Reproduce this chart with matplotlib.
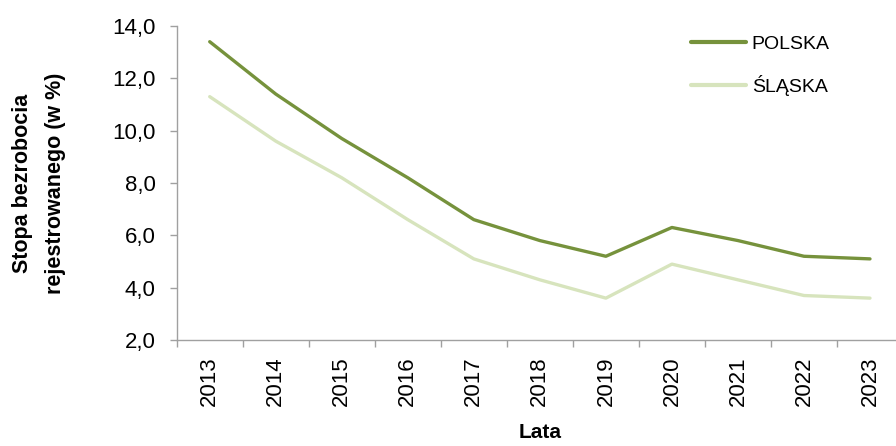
import matplotlib
matplotlib.use("Agg")
import matplotlib.pyplot as plt

years = ["2013", "2014", "2015", "2016", "2017", "2018", "2019", "2020", "2021", "2022", "2023"]
polska = [13.4, 11.4, 9.7, 8.2, 6.6, 5.8, 5.2, 6.3, 5.8, 5.2, 5.1]
slaska = [11.3, 9.6, 8.2, 6.6, 5.1, 4.3, 3.6, 4.9, 4.3, 3.7, 3.6]
yticks = [2.0, 4.0, 6.0, 8.0, 10.0, 12.0, 14.0]

plt.rcParams['font.family'] = ['Liberation Sans', 'DejaVu Sans']

W, H = 896, 446
fig = plt.figure(figsize=(W / 100, H / 100), dpi=100)
left, right, bottom, top = 176.7, 903, 340, 26
ax = fig.add_axes([left / W, 1 - bottom / H, (right - left) / W, (bottom - top) / H])

x = list(range(len(years)))
ax.plot(x, polska, color='#76923C', lw=2.4, label='POLSKA', solid_capstyle='round', solid_joinstyle='round')
ax.plot(x, slaska, color='#D7E4BD', lw=2.4, label='ŚLĄSKA', solid_capstyle='round', solid_joinstyle='round')

FS = 16
ax.set_xlim(-0.5, len(years) - 0.5)
ax.set_ylim(2, 14)
ax.set_yticks(yticks)
ax.set_yticklabels([f"{v:.1f}".replace('.', ',') for v in yticks], fontsize=FS)
ax.set_xticks([i - 0.5 for i in range(len(years) + 1)])
ax.set_xticklabels([])
ax.set_xticks(x, minor=True)
ax.set_xticklabels(years, minor=True, rotation=90, fontsize=FS)
ax.tick_params(axis='x', which='minor', length=0, pad=12)
ax.tick_params(axis='x', which='major', length=5, width=1, color='#A0A0A0', direction='out')
ax.tick_params(axis='y', length=5, width=1, color='#A0A0A0', direction='out', pad=10)

for s in ['top', 'right']:
    ax.spines[s].set_visible(False)
for s in ['left', 'bottom']:
    ax.spines[s].set_color('#A0A0A0')
    ax.spines[s].set_linewidth(1)

fig.text(39 / W, 1 - 183 / H, "Stopa bezrobocia\nrejestrowanego (w %)", rotation=90,
         ha='center', va='center', fontsize=15.5, fontweight='bold', linespacing=1.75)
fig.text(540 / W, 1 - 433 / H, "Lata", ha='center', va='center', fontsize=15, fontweight='bold')

leg = ax.legend(loc='upper left', bbox_to_anchor=((673 - left) / (right - left), 1.027),
                frameon=False, fontsize=14, handlelength=2.85, handletextpad=0.3,
                labelspacing=1.15)
for line in leg.get_lines():
    line.set_linewidth(3)

fig.savefig("out.png", dpi=100)
